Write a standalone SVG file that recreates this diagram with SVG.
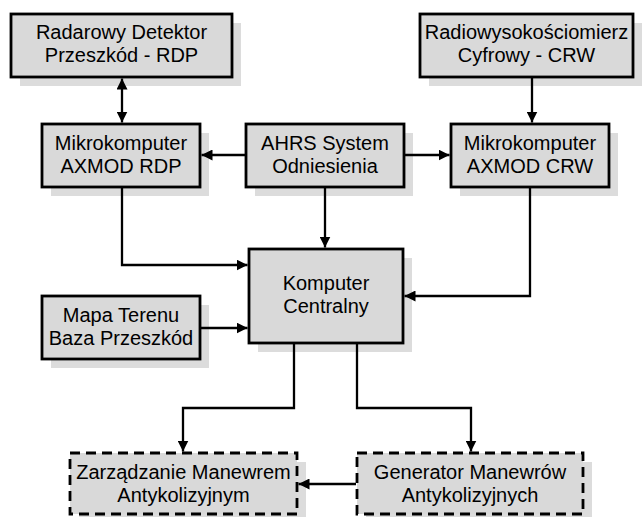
<svg xmlns="http://www.w3.org/2000/svg" width="642" height="517" viewBox="0 0 642 517">
<defs>
<style>
.sh{fill:#dcdcdc;stroke:none}
.bx{fill:#d9d9d9;stroke:#000;stroke-width:2.8}
.ds{fill:#d9d9d9;stroke:#000;stroke-width:2.8;stroke-dasharray:10,6}
.t{font-family:"Liberation Sans",Arial,sans-serif;font-size:20px;fill:#000;text-anchor:middle}
.c{fill:none;stroke:#000;stroke-width:2.3}
</style>
<marker id="a" markerWidth="11" markerHeight="11" refX="11" refY="5.5" orient="auto-start-reverse" markerUnits="userSpaceOnUse">
<path d="M0,0 L11,5.5 L0,11 Z" fill="#000"/>
</marker>
</defs>
<rect width="642" height="517" fill="#fff"/>
<g id="n-rdp-det">
<rect class="sh" x="20" y="23" width="221" height="63"/>
<rect class="bx" x="11" y="14" width="221" height="63"/>
<text class="t" x="121.5" y="39">Radarowy Detektor</text>
<text class="t" x="121.5" y="62">Przeszkód - RDP</text>
</g>
<g id="n-crw-det">
<rect class="sh" x="429" y="23" width="213" height="63"/>
<rect class="bx" x="420" y="14" width="213" height="63"/>
<text class="t" x="526.5" y="39">Radiowysokościomierz</text>
<text class="t" x="526.5" y="62">Cyfrowy - CRW</text>
</g>
<g id="n-mk-rdp">
<rect class="sh" x="51" y="133" width="158" height="63"/>
<rect class="bx" x="42" y="124" width="158" height="63"/>
<text class="t" x="121" y="150">Mikrokomputer</text>
<text class="t" x="121" y="173">AXMOD RDP</text>
</g>
<g id="n-ahrs">
<rect class="sh" x="255" y="133" width="158" height="63"/>
<rect class="bx" x="246" y="124" width="158" height="63"/>
<text class="t" x="325" y="150">AHRS System</text>
<text class="t" x="325" y="173">Odniesienia</text>
</g>
<g id="n-mk-crw">
<rect class="sh" x="460" y="133" width="158" height="63"/>
<rect class="bx" x="451" y="124" width="158" height="63"/>
<text class="t" x="530" y="150">Mikrokomputer</text>
<text class="t" x="530" y="173">AXMOD CRW</text>
</g>
<g id="n-komputer">
<rect class="sh" x="258" y="258" width="154" height="94"/>
<rect class="bx" x="249" y="249" width="154" height="94"/>
<text class="t" x="326" y="290">Komputer</text>
<text class="t" x="326" y="313">Centralny</text>
</g>
<g id="n-mapa">
<rect class="sh" x="51" y="305" width="158" height="63"/>
<rect class="bx" x="42" y="296" width="158" height="63"/>
<text class="t" x="121" y="322">Mapa Terenu</text>
<text class="t" x="121" y="345">Baza Przeszkód</text>
</g>
<g id="n-zarz">
<rect class="sh" x="79" y="462" width="227" height="62"/>
<rect class="ds" x="70" y="453" width="227" height="61"/>
<text class="t" x="183.5" y="479">Zarządzanie Manewrem</text>
<text class="t" x="183.5" y="502">Antykolizyjnym</text>
</g>
<g id="n-gen">
<rect class="sh" x="366" y="462" width="226" height="62"/>
<rect class="ds" x="357" y="453" width="226" height="61"/>
<text class="t" x="470" y="479">Generator Manewrów</text>
<text class="t" x="470" y="502">Antykolizyjnych</text>
</g>
<g id="connectors">
<line class="c" x1="122" y1="78.5" x2="122" y2="122.5" marker-start="url(#a)" marker-end="url(#a)"/>
<line class="c" x1="532" y1="78" x2="532" y2="122.5" marker-end="url(#a)"/>
<line class="c" x1="245" y1="155" x2="201.5" y2="155" marker-end="url(#a)"/>
<line class="c" x1="405" y1="155" x2="449.5" y2="155" marker-end="url(#a)"/>
<line class="c" x1="325" y1="188" x2="325" y2="247.5" marker-end="url(#a)"/>
<polyline class="c" points="122,188 122,265 247.5,265" marker-end="url(#a)"/>
<line class="c" x1="201" y1="328" x2="247.5" y2="328" marker-end="url(#a)"/>
<polyline class="c" points="530,188 530,296 404.5,296" marker-end="url(#a)"/>
<polyline class="c" points="294,344 294,408 183,408 183,451.5" marker-end="url(#a)"/>
<polyline class="c" points="357,344 357,408 471,408 471,451.5" marker-end="url(#a)"/>
<line class="c" x1="356" y1="484" x2="298.5" y2="484" marker-end="url(#a)"/>
</g>
</svg>
